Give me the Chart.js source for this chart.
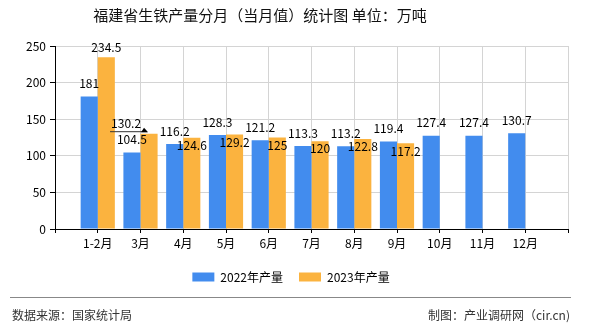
<!DOCTYPE html>
<html><head><meta charset="utf-8">
<script src="https://cdn.jsdelivr.net/npm/chart.js@4.4.0/dist/chart.umd.min.js"></script>
<style>
body{margin:0;background:#fff;}
#wrap{position:relative;width:590px;height:330px;overflow:hidden;font-family:"Noto Sans CJK SC",sans-serif;background:#fff;}
canvas{position:absolute;left:0;top:0;}
#title{position:absolute;left:0;top:0;width:520px;line-height:30px;text-align:center;font-size:15px;color:#111;white-space:nowrap;}
#rule{position:absolute;left:10px;top:297px;width:561px;height:0;border-top:1px solid #888;}
#src{position:absolute;left:12px;top:306px;font-size:12px;line-height:18px;color:#333;}
#maker{position:absolute;right:20px;top:306px;font-size:12px;line-height:18px;color:#333;}
</style></head><body>
<div id="wrap">
<canvas id="c" width="590" height="330"></canvas>
<div id="title">福建省生铁产量分月（当月值）统计图 单位：万吨</div>
<div id="rule"></div>
<div id="src">数据来源：国家统计局</div>
<div id="maker">制图：产业调研网（cir.cn)</div>
</div>
<script>
// ---- data ----
const categories = ['1-2月','3月','4月','5月','6月','7月','8月','9月','10月','11月','12月'];
const series2022 = [181,104.5,116.2,128.3,121.2,113.3,113.2,119.4,127.4,127.4,130.7];
const series2023 = [234.5,130.2,124.6,129.2,125,120,122.8,117.2,null,null,null];
const seriesNames = ['2022年产量','2023年产量'];
const yTicks = [0,50,100,150,200,250];

// ---- label placement (style) ----
const labelDy = [
  [-13,-13,-13,-13,-13,-13,-13,-13,-13,-13,-13],
  [-9.5,-10.5,8,8.5,8.3,7.7,7.7,8.3,0,0,0]
];
const labelDx = [
  [0,0,0,0,0,0,0,0,0,0,0],
  [0,-23,0,0,0,0,0,0,0,0,0]
];
const leaderAt = [[],[1]];

const FONT = '"Noto Sans CJK SC", sans-serif';
const labels = [''].concat(categories, ['']);
const pad = arr => [null].concat(arr, [null]);

const valueLabels = {
  id: 'valueLabels',
  afterDatasetsDraw(chart) {
    const ctx = chart.ctx;
    ctx.save();
    ctx.font = '12px ' + FONT;
    ctx.fillStyle = '#000';
    ctx.textAlign = 'center';
    ctx.textBaseline = 'middle';
    chart.data.datasets.forEach((ds, di) => {
      const meta = chart.getDatasetMeta(di);
      meta.data.forEach((el, i) => {
        const v = ds.data[i];
        if (v == null) return;
        const k = i - 1;
        const lx = el.x + labelDx[di][k];
        const ly = el.y + labelDy[di][k];
        ctx.fillText(String(v), lx, ly);
        if (leaderAt[di].includes(k)) {
          ctx.strokeStyle = '#333';
          ctx.lineWidth = 1;
          ctx.beginPath();
          ctx.moveTo(lx - 16, ly + 8.5);
          ctx.lineTo(lx + 21, ly + 8.5);
          ctx.stroke();
          ctx.fillStyle = '#000';
          ctx.beginPath();
          ctx.moveTo(lx + 15, ly + 9);
          ctx.lineTo(lx + 22, ly + 9);
          ctx.lineTo(lx + 18, ly + 4.5);
          ctx.closePath();
          ctx.fill();
        }
      });
    });
    ctx.restore();
  }
};

new Chart(document.getElementById('c'), {
  type: 'bar',
  data: {
    labels: labels,
    datasets: [
      {label: seriesNames[0], data: pad(series2022), backgroundColor: '#428CEE', borderWidth: 0},
      {label: seriesNames[1], data: pad(series2023), backgroundColor: '#FBB33F', borderWidth: 0}
    ]
  },
  options: {
    responsive: false,
    animation: false,
    devicePixelRatio: 1,
    layout: {padding: {top: 46, right: 22, left: 14, bottom: 37}},
    datasets: {bar: {categoryPercentage: 0.8, barPercentage: 1.0}},
    scales: {
      x: {
        offset: false,
        grid: {offset: false, color: '#d4d4d4', tickColor: '#000', tickLength: 4, lineWidth: 1},
        border: {color: '#000', width: 1},
        ticks: {color: '#000', font: {size: 12, family: FONT}, padding: 3, maxRotation: 0, autoSkip: false},
        afterFit(s) { s.height = 26; }
      },
      y: {
        min: yTicks[0],
        max: yTicks[yTicks.length - 1],
        ticks: {stepSize: yTicks[1] - yTicks[0], color: '#000', font: {size: 12, family: FONT}, padding: 4},
        grid: {color: '#d4d4d4', tickColor: '#000', tickLength: 5},
        border: {color: '#000', width: 1},
        afterFit(s) { s.width = 41; }
      }
    },
    plugins: {
      title: {display: false},
      tooltip: {enabled: false},
      legend: {
        position: 'bottom',
        labels: {boxWidth: 22, boxHeight: 9, padding: 16, color: '#000', font: {size: 12, family: FONT}}
      }
    }
  },
  plugins: [valueLabels]
});
</script>
</body></html>
